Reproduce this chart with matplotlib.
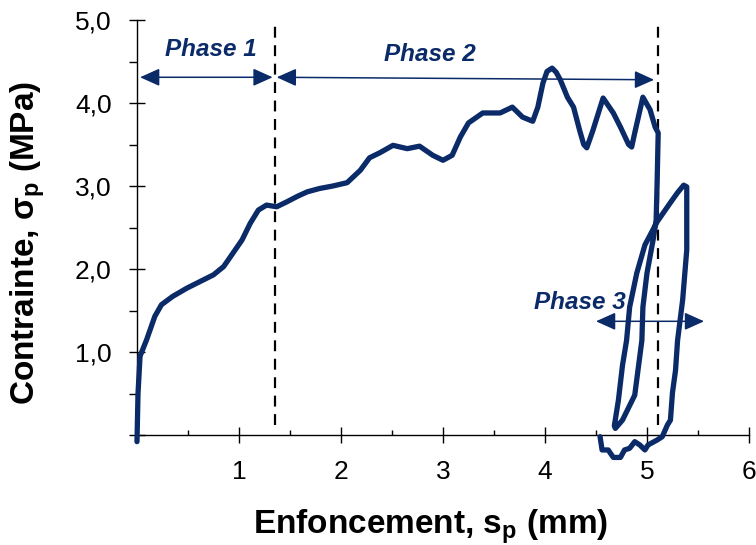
import matplotlib
matplotlib.use("Agg")
import matplotlib.pyplot as plt
from matplotlib.ticker import MultipleLocator, FuncFormatter
from matplotlib.patches import ArrowStyle

plt.rcParams['font.family'] = ['Liberation Sans', 'DejaVu Sans']
plt.rcParams['mathtext.fontset'] = 'custom'
plt.rcParams['mathtext.rm'] = 'Liberation Sans'
plt.rcParams['mathtext.bf'] = 'Liberation Sans:bold'

NAVY = '#0a2a68'

# penetration test: displacement (mm) and stress (MPa), loading then unload/reload loop
enfoncement = [
    0.00, 0.01, 0.03, 0.095, 0.175, 0.24, 0.35, 0.49, 0.62, 0.75, 0.85, 0.94,
    1.03, 1.11, 1.19, 1.27, 1.37, 1.47, 1.58, 1.67, 1.79, 1.92, 2.06, 2.19,
    2.28, 2.38, 2.51, 2.65, 2.77, 2.90, 3.00, 3.09, 3.17, 3.25, 3.39, 3.56,
    3.68, 3.78, 3.88, 3.93, 3.98, 4.02, 4.07, 4.11, 4.15, 4.22, 4.28, 4.34,
    4.38, 4.41, 4.47, 4.57, 4.67, 4.74, 4.82, 4.85, 4.88, 4.96, 5.03, 5.08,
    5.11,
    5.10, 5.09, 5.06, 5.00, 4.96, 4.95, 4.88, 4.76, 4.69,
    4.68, 4.72, 4.76, 4.80, 4.83, 4.90, 4.98, 5.10, 5.23, 5.30, 5.36, 5.39,
    5.39, 5.35, 5.30, 5.28, 5.25, 5.23, 5.20, 5.15, 5.10, 5.01, 4.98, 4.93,
    4.88, 4.83, 4.78, 4.74, 4.67, 4.62, 4.56, 4.54,
]
contrainte = [
    -0.08, 0.50, 0.95, 1.15, 1.43, 1.57, 1.67, 1.77, 1.85, 1.93, 2.03, 2.19,
    2.35, 2.55, 2.71, 2.77, 2.75, 2.81, 2.88, 2.93, 2.97, 3.00, 3.04, 3.19,
    3.34, 3.40, 3.49, 3.45, 3.48, 3.37, 3.31, 3.37, 3.59, 3.76, 3.88, 3.88,
    3.95, 3.83, 3.78, 3.95, 4.24, 4.38, 4.42, 4.37, 4.28, 4.07, 3.95, 3.67,
    3.50, 3.46, 3.67, 4.06, 3.88, 3.71, 3.50, 3.47, 3.64, 4.07, 3.92, 3.71,
    3.64,
    3.07, 2.59, 2.35, 1.95, 1.54, 1.14, 0.48, 0.18, 0.08,
    0.11, 0.42, 0.84, 1.14, 1.54, 1.95, 2.29, 2.57, 2.80, 2.92, 3.01, 2.99,
    2.23, 1.63, 1.14, 0.78, 0.51, 0.18, 0.12, -0.02, -0.06, -0.12, -0.18, -0.12,
    -0.08, -0.16, -0.18, -0.27, -0.27, -0.18, -0.18, -0.02,
]

# phase limits (mm) and annotation arrows
limites_phase = [1.35, 5.11]
phases = ['Phase 1', 'Phase 2', 'Phase 3']
fleches = [((0.03, 4.31), (1.33, 4.31)),
           ((1.37, 4.31), (5.07, 4.28)),
           ((4.50, 1.37), (5.56, 1.37))]
pos_textes = [(0.72, 4.64), (2.87, 4.58), (4.34, 1.60)]

fig = plt.figure(figsize=(7.56, 5.45), dpi=100)
ax = fig.add_axes([0.1812, 0.2018, 0.8095, 0.7615])

ax.plot(enfoncement, contrainte, color=NAVY, lw=3.8, clip_on=False,
        solid_joinstyle='round', solid_capstyle='round', zorder=3)

for xl in limites_phase:
    ax.plot([xl, xl], [0.12, 5.0], color='black', lw=1.6,
            linestyle=(0, (4.9, 3.4)), clip_on=False, zorder=2)

style = ArrowStyle('<|-|>', head_length=0.6, head_width=0.27)
for (a, b), txt, (tx, ty) in zip(fleches, phases, pos_textes):
    ax.annotate('', xy=b, xytext=a,
                arrowprops=dict(arrowstyle=style, mutation_scale=20, lw=1.1,
                                color=NAVY, shrinkA=0, shrinkB=0),
                annotation_clip=False, zorder=4)
    ax.text(tx, ty, txt, ha='center', va='center', fontsize=17.5,
            fontweight='bold', fontstyle='italic', color=NAVY, zorder=5)

ax.set_xlim(0, 6)
ax.set_ylim(0, 5)
ax.spines['top'].set_visible(False)
ax.spines['right'].set_visible(False)
for sp in ('left', 'bottom'):
    ax.spines[sp].set_linewidth(1.0)

ax.xaxis.set_major_locator(MultipleLocator(1))
ax.xaxis.set_minor_locator(MultipleLocator(0.5))
ax.yaxis.set_major_locator(MultipleLocator(1))
ax.yaxis.set_minor_locator(MultipleLocator(0.5))
ax.xaxis.set_major_formatter(FuncFormatter(lambda v, p: '' if v == 0 else f'{v:.0f}'))
ax.yaxis.set_major_formatter(
    FuncFormatter(lambda v, p: '' if v == 0 else f'{v:.1f}'.replace('.', ',')))

ax.tick_params(axis='both', which='major', direction='inout', length=12.2,
               width=1.0, labelsize=19, pad=12)
ax.tick_params(axis='x', which='minor', direction='in', length=3.6, width=1.0)
ax.tick_params(axis='y', which='minor', direction='out', length=5.8, width=1.0)

ax.set_xlabel('Enfoncement, s$_\\mathbf{p}$ (mm)', fontsize=24, fontweight='bold')
ax.set_ylabel('Contrainte, σ$_\\mathbf{p}$ (MPa)', fontsize=24, fontweight='bold')
ax.xaxis.set_label_coords(0.48, -0.175)
ax.yaxis.set_label_coords(-0.147, 0.463)

fig.savefig('out.png', dpi=100)
